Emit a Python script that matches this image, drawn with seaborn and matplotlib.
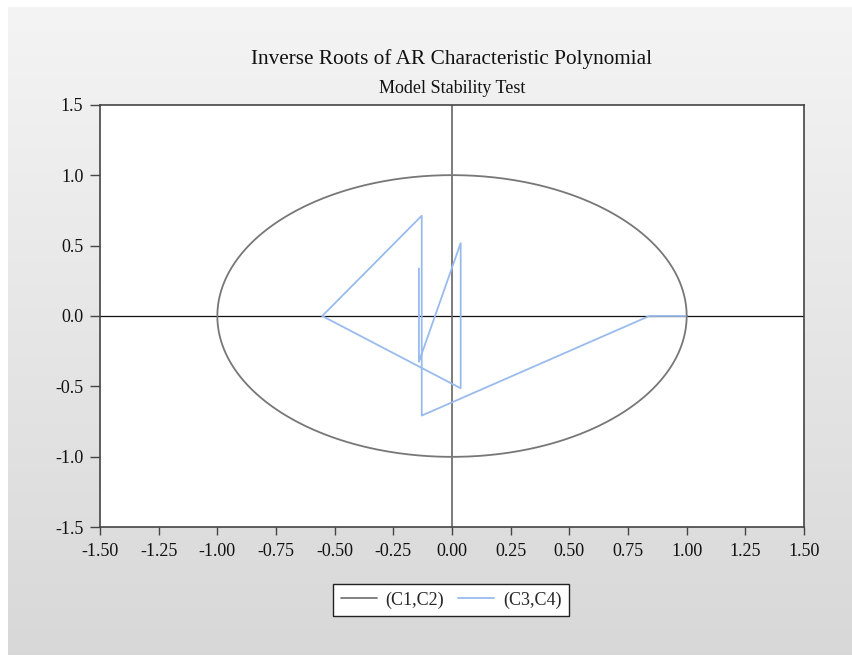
import numpy as np
import pandas as pd
import matplotlib
matplotlib.use("Agg")
import matplotlib.pyplot as plt
import seaborn as sns

# Data
root_x = [0.995, 0.841, -0.129, -0.129, -0.553, 0.037, 0.037, -0.141, -0.141]
root_y = [0.0, 0.0, -0.707, 0.712, 0.0, -0.513, 0.518, -0.325, 0.338]
x_ticks = [-1.50, -1.25, -1.00, -0.75, -0.50, -0.25, 0.00, 0.25, 0.50, 0.75, 1.00, 1.25, 1.50]
y_ticks = [-1.5, -1.0, -0.5, 0.0, 0.5, 1.0, 1.5]
series_names = ["(C1,C2)", "(C3,C4)"]
title = "Inverse Roots of AR Characteristic Polynomial"
subtitle = "Model Stability Test"

sns.set_theme(style="white")
plt.rcParams['font.family'] = ['Liberation Serif', 'DejaVu Serif']

W, H = 853, 655
fig = plt.figure(figsize=(W / 100, H / 100), dpi=100)
fig.patch.set_facecolor("white")

# gradient background panel
bg = fig.add_axes([8 / W, 0, 1 - 8 / W, (H - 7) / H])
grad = np.linspace(0.957, 0.847, 256).reshape(-1, 1)
bg.imshow(np.dstack([grad, grad, grad]), aspect="auto", extent=[0, 1, 0, 1])
bg.set_axis_off()

ax = fig.add_axes([100 / W, (H - 527.3) / H, (804 - 100) / W, (527.3 - 104.7) / H])
ax.set_facecolor("white")

theta = np.linspace(0, 2 * np.pi, 721)
circle_df = pd.DataFrame({"x": np.cos(theta), "y": np.sin(theta), "s": series_names[0]})
roots_df = pd.DataFrame({"x": root_x, "y": root_y, "s": series_names[1]})

ax.axhline(0, color="#111111", lw=0.9, zorder=1)
ax.axvline(0, color="#666666", lw=1.2, zorder=1)

sns.lineplot(data=circle_df, x="x", y="y", sort=False, estimator=None,
             color="#777777", lw=1.3, ax=ax, label=series_names[0], zorder=3)
sns.lineplot(data=roots_df, x="x", y="y", sort=False, estimator=None,
             color="#99bbee", lw=1.3, ax=ax, label=series_names[1], zorder=4)

ax.set_xlim(-1.5, 1.5)
ax.set_ylim(-1.5, 1.5)
ax.set_xticks(x_ticks)
ax.set_xticklabels([f"{v:.2f}" for v in x_ticks])
ax.set_yticks(y_ticks)
ax.set_yticklabels([f"{v:.1f}" for v in y_ticks])
ax.set_xlabel("")
ax.set_ylabel("")
ax.tick_params(axis="both", which="both", direction="out", length=6, width=1,
               color="#444444", labelsize=13, labelcolor="#111111", pad=5,
               bottom=True, left=True, top=False, right=False)
ax.tick_params(axis="y", length=7)
for sp in ax.spines.values():
    sp.set_color("#444444")
    sp.set_linewidth(1.2)

ax.get_legend().remove()
handles, labels = ax.get_legend_handles_labels()
leg = fig.legend(handles, labels, loc="center", bbox_to_anchor=(451 / W, (H - 600) / H),
                 ncol=2, frameon=True, fancybox=False, fontsize=13,
                 handlelength=2.0, columnspacing=0.75, borderpad=0.4, handletextpad=0.5,
                 borderaxespad=0)
leg.get_frame().set_edgecolor("#222222")
leg.get_frame().set_linewidth(1.0)
leg.get_frame().set_facecolor("white")
leg.get_frame().set_alpha(1)

fig.text(452 / W, (H - 64) / H, title, ha="center", va="baseline", fontsize=15.3, color="#111111")
fig.text(452 / W, (H - 93) / H, subtitle, ha="center", va="baseline", fontsize=13, color="#111111")

fig.savefig("out.png", dpi=100)
